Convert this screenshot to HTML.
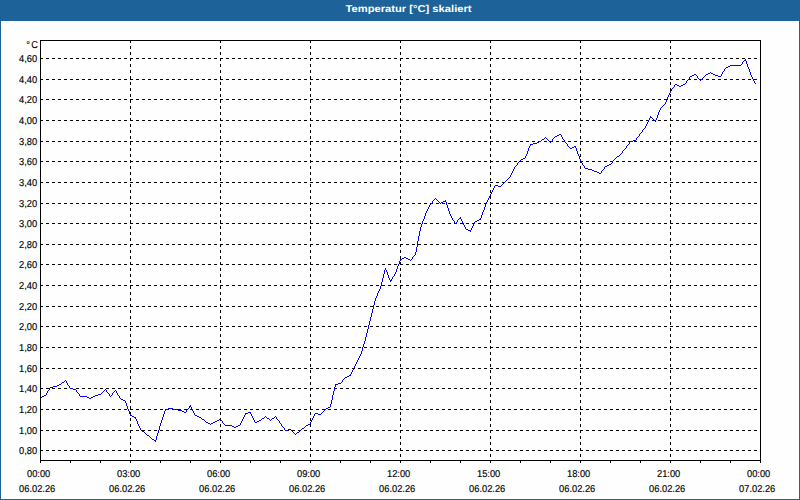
<!DOCTYPE html>
<html><head><meta charset="utf-8"><title>Temperatur [°C] skaliert</title>
<style>
html,body{margin:0;padding:0;background:#fdfefd;}
body{width:800px;height:500px;overflow:hidden;position:relative;font-family:"Liberation Sans",sans-serif;}
#bar{position:absolute;left:0;top:0;width:800px;height:21px;background:#1d6299;}
#frame{position:absolute;left:0;top:21px;width:798px;height:478px;border:1px solid #1d6299;border-top:none;background:#fdfefd;}
svg{position:absolute;left:0;top:0;}
text{font-family:"Liberation Sans",sans-serif;text-rendering:geometricPrecision;}
.t{font-size:10px;fill:#000;letter-spacing:0px;stroke:#000;stroke-width:0.15px;}
.title{font-size:10px;font-weight:bold;fill:#fff;letter-spacing:0px;}
</style></head><body>
<div id="bar"></div><div id="frame"></div>
<svg width="800" height="500" viewBox="0 0 800 500">
<g transform="translate(408.5,12) scale(1.118,1)"><text class="title" text-anchor="middle">Temperatur [°C] skaliert</text></g>
<g shape-rendering="crispEdges" fill="none" stroke="#000" stroke-width="1">

<line x1="40" y1="58.5" x2="760" y2="58.5" stroke-dasharray="3 3"/>
<line x1="40" y1="79.5" x2="760" y2="79.5" stroke-dasharray="3 3"/>
<line x1="40" y1="99.5" x2="760" y2="99.5" stroke-dasharray="3 3"/>
<line x1="40" y1="120.5" x2="760" y2="120.5" stroke-dasharray="3 3"/>
<line x1="40" y1="141.5" x2="760" y2="141.5" stroke-dasharray="3 3"/>
<line x1="40" y1="161.5" x2="760" y2="161.5" stroke-dasharray="3 3"/>
<line x1="40" y1="182.5" x2="760" y2="182.5" stroke-dasharray="3 3"/>
<line x1="40" y1="203.5" x2="760" y2="203.5" stroke-dasharray="3 3"/>
<line x1="40" y1="223.5" x2="760" y2="223.5" stroke-dasharray="3 3"/>
<line x1="40" y1="244.5" x2="760" y2="244.5" stroke-dasharray="3 3"/>
<line x1="40" y1="264.5" x2="760" y2="264.5" stroke-dasharray="3 3"/>
<line x1="40" y1="285.5" x2="760" y2="285.5" stroke-dasharray="3 3"/>
<line x1="40" y1="306.5" x2="760" y2="306.5" stroke-dasharray="3 3"/>
<line x1="40" y1="326.5" x2="760" y2="326.5" stroke-dasharray="3 3"/>
<line x1="40" y1="347.5" x2="760" y2="347.5" stroke-dasharray="3 3"/>
<line x1="40" y1="368.5" x2="760" y2="368.5" stroke-dasharray="3 3"/>
<line x1="40" y1="388.5" x2="760" y2="388.5" stroke-dasharray="3 3"/>
<line x1="40" y1="409.5" x2="760" y2="409.5" stroke-dasharray="3 3"/>
<line x1="40" y1="430.5" x2="760" y2="430.5" stroke-dasharray="3 3"/>
<line x1="40" y1="450.5" x2="760" y2="450.5" stroke-dasharray="3 3"/>
<line x1="130.5" y1="40" x2="130.5" y2="460" stroke-dasharray="3 3"/>
<line x1="220.5" y1="40" x2="220.5" y2="460" stroke-dasharray="3 3"/>
<line x1="310.5" y1="40" x2="310.5" y2="460" stroke-dasharray="3 3"/>
<line x1="400.5" y1="40" x2="400.5" y2="460" stroke-dasharray="3 3"/>
<line x1="490.5" y1="40" x2="490.5" y2="460" stroke-dasharray="3 3"/>
<line x1="580.5" y1="40" x2="580.5" y2="460" stroke-dasharray="3 3"/>
<line x1="670.5" y1="40" x2="670.5" y2="460" stroke-dasharray="3 3"/>
<line x1="40.5" y1="460" x2="40.5" y2="463"/>
<line x1="70.5" y1="460" x2="70.5" y2="463"/>
<line x1="100.5" y1="460" x2="100.5" y2="463"/>
<line x1="130.5" y1="460" x2="130.5" y2="463"/>
<line x1="160.5" y1="460" x2="160.5" y2="463"/>
<line x1="190.5" y1="460" x2="190.5" y2="463"/>
<line x1="220.5" y1="460" x2="220.5" y2="463"/>
<line x1="250.5" y1="460" x2="250.5" y2="463"/>
<line x1="280.5" y1="460" x2="280.5" y2="463"/>
<line x1="310.5" y1="460" x2="310.5" y2="463"/>
<line x1="340.5" y1="460" x2="340.5" y2="463"/>
<line x1="370.5" y1="460" x2="370.5" y2="463"/>
<line x1="400.5" y1="460" x2="400.5" y2="463"/>
<line x1="430.5" y1="460" x2="430.5" y2="463"/>
<line x1="460.5" y1="460" x2="460.5" y2="463"/>
<line x1="490.5" y1="460" x2="490.5" y2="463"/>
<line x1="520.5" y1="460" x2="520.5" y2="463"/>
<line x1="550.5" y1="460" x2="550.5" y2="463"/>
<line x1="580.5" y1="460" x2="580.5" y2="463"/>
<line x1="610.5" y1="460" x2="610.5" y2="463"/>
<line x1="640.5" y1="460" x2="640.5" y2="463"/>
<line x1="670.5" y1="460" x2="670.5" y2="463"/>
<line x1="700.5" y1="460" x2="700.5" y2="463"/>
<line x1="730.5" y1="460" x2="730.5" y2="463"/>
<line x1="760.5" y1="460" x2="760.5" y2="463"/>
</g>
<path shape-rendering="crispEdges" fill="none" stroke="#0000ff" stroke-width="1" d="M744 60.5h2M730 65.5h11M728 66.5h2M726 67.5h2M708 73.5h2M711 73.5h2M694 74.5h2M706 74.5h2M713 74.5h2M692 75.5h2M715 75.5h3M690 76.5h2M718 76.5h3M675 84.5h2M683 84.5h2M677 85.5h2M681 85.5h2M679 86.5h2M650 117.5h2M654 120.5h2M559 134.5h2M557 135.5h2M555 136.5h2M542 139.5h2M633 140.5h3M539 141.5h2M630 141.5h3M537 142.5h2M533 143.5h4M530 144.5h3M574 146.5h2M572 147.5h2M570 148.5h2M617 156.5h2M523 158.5h2M521 159.5h2M609 164.5h2M607 165.5h2M605 166.5h2M585 168.5h3M588 169.5h4M592 170.5h2M594 171.5h3M597 172.5h2M599 173.5h2M495 185.5h3M498 186.5h3M443 201.5h3M441 202.5h2M459 218.5h2M479 219.5h2M477 220.5h2M475 221.5h2M466 229.5h2M468 230.5h3M404 257.5h2M402 258.5h2M406 258.5h2M400 259.5h2M408 259.5h2M390 280.5h2M349 375.5h2M347 376.5h2M345 377.5h2M62 382.5h2M338 383.5h3M59 384.5h2M335 384.5h3M57 385.5h2M53 386.5h4M50 387.5h3M70 388.5h3M73 389.5h3M98 394.5h3M44 395.5h2M95 395.5h3M42 396.5h2M80 396.5h7M93 396.5h2M40 397.5h2M87 397.5h2M91 397.5h2M89 398.5h2M121 399.5h2M123 400.5h2M189 406.5h2M328 407.5h2M168 408.5h5M326 408.5h2M165 409.5h3M173 409.5h5M178 410.5h4M182 411.5h2M184 412.5h2M248 412.5h3M245 413.5h3M315 413.5h3M318 414.5h3M130 415.5h2M195 415.5h2M132 416.5h2M197 416.5h2M134 417.5h2M199 417.5h2M262 418.5h2M267 418.5h2M272 418.5h2M202 419.5h2M219 419.5h2M217 420.5h2M259 420.5h2M215 421.5h2M257 421.5h2M206 422.5h2M213 422.5h2M255 422.5h2M208 423.5h2M211 423.5h2M308 424.5h2M225 425.5h7M238 425.5h2M306 425.5h2M232 426.5h2M236 426.5h2M234 427.5h2M302 428.5h2M288 429.5h3M285 430.5h3M142 431.5h2M297 432.5h2M147 435.5h2M152 439.5h2M154 440.5h2M46.5 393v2M47.5 391v2M48.5 390v1M49.5 388v2M61.5 383v1M64.5 381v1M65.5 380v1M66.5 381v2M67.5 383v2M68.5 385v1M69.5 386v2M76.5 390v2M77.5 392v1M78.5 393v1M79.5 394v2M101.5 393v1M102.5 392v1M103.5 391v1M104.5 390v1M105.5 389v1M106.5 390v2M107.5 392v1M108.5 393v1M109.5 394v2M110.5 396v1M111.5 395v1M112.5 393v2M113.5 392v1M114.5 391v1M115.5 390v1M116.5 391v2M117.5 393v2M118.5 395v1M119.5 396v2M120.5 398v1M125.5 401v2M126.5 403v3M127.5 406v3M128.5 409v2M129.5 411v3M130.5 414v1M135.5 418v1M136.5 419v2M137.5 421v3M138.5 424v2M139.5 426v2M140.5 428v2M141.5 430v1M144.5 432v1M145.5 433v1M146.5 434v1M149.5 436v1M150.5 437v1M151.5 438v1M155.5 441v1M156.5 436v4M157.5 433v3M158.5 430v3M159.5 426v4M160.5 423v3M161.5 420v3M162.5 417v3M163.5 414v3M164.5 411v3M165.5 410v1M186.5 410v2M187.5 409v1M188.5 408v1M189.5 407v1M190.5 405v1M191.5 407v2M192.5 409v2M193.5 411v2M194.5 413v2M201.5 418v1M204.5 420v1M205.5 421v1M210.5 424v1M221.5 420v1M222.5 421v2M223.5 423v1M224.5 424v1M240.5 423v2M241.5 421v2M242.5 419v2M243.5 417v2M244.5 415v2M245.5 414v1M250.5 413v1M251.5 414v2M252.5 416v2M253.5 418v2M254.5 420v2M261.5 419v1M264.5 417v1M265.5 416v1M266.5 417v1M269.5 419v1M270.5 420v1M271.5 419v1M274.5 417v1M275.5 416v1M276.5 417v2M277.5 419v1M278.5 420v1M279.5 421v2M280.5 423v1M281.5 424v2M282.5 426v1M283.5 427v1M284.5 428v2M291.5 430v1M292.5 431v1M293.5 432v1M294.5 433v1M295.5 434v1M296.5 433v1M299.5 431v1M300.5 430v1M301.5 429v1M304.5 427v1M305.5 426v1M310.5 422v2M311.5 420v2M312.5 418v2M313.5 416v2M314.5 414v2M321.5 413v1M322.5 412v1M323.5 411v1M324.5 410v1M325.5 409v1M330.5 404v3M331.5 400v4M332.5 395v5M333.5 391v4M334.5 387v4M335.5 385v2M341.5 382v1M342.5 380v2M343.5 379v1M344.5 378v1M350.5 374v1M351.5 372v2M352.5 370v2M353.5 368v2M354.5 366v2M355.5 364v2M356.5 362v2M357.5 360v2M358.5 358v2M359.5 356v2M360.5 354v2M361.5 351v3M362.5 347v4M363.5 344v3M364.5 341v3M365.5 337v4M366.5 333v4M367.5 329v4M368.5 325v4M369.5 321v4M370.5 317v4M371.5 313v4M372.5 309v4M373.5 305v4M374.5 301v4M375.5 298v3M376.5 296v2M377.5 293v3M378.5 291v2M379.5 289v2M380.5 286v3M381.5 282v4M382.5 278v4M383.5 274v4M384.5 270v4M385.5 268v2M386.5 270v2M387.5 272v3M388.5 275v3M389.5 278v2M390.5 281v1M391.5 279v1M392.5 277v2M393.5 276v1M394.5 274v2M395.5 272v2M396.5 269v3M397.5 266v3M398.5 264v2M399.5 261v3M400.5 260v1M410.5 260v1M411.5 259v1M412.5 257v2M413.5 256v1M414.5 255v1M415.5 252v3M416.5 247v5M417.5 241v6M418.5 236v5M419.5 231v5M420.5 227v4M421.5 224v3M422.5 221v3M423.5 219v2M424.5 216v3M425.5 213v3M426.5 211v2M427.5 209v2M428.5 207v2M429.5 205v2M430.5 204v1M431.5 203v1M432.5 201v2M433.5 200v1M434.5 199v1M435.5 198v1M436.5 199v1M437.5 200v1M438.5 201v1M439.5 202v1M440.5 203v1M445.5 200v1M446.5 202v3M447.5 205v3M448.5 208v3M449.5 211v3M450.5 214v2M451.5 216v2M452.5 218v2M453.5 220v1M454.5 221v2M455.5 223v1M456.5 222v1M457.5 220v2M458.5 219v1M460.5 217v1M461.5 219v2M462.5 221v2M463.5 223v2M464.5 225v2M465.5 227v2M470.5 231v1M471.5 228v2M472.5 226v2M473.5 224v2M474.5 222v2M480.5 218v1M481.5 215v3M482.5 212v3M483.5 210v2M484.5 207v3M485.5 204v3M486.5 202v2M487.5 200v2M488.5 198v2M489.5 196v2M490.5 194v2M491.5 192v2M492.5 190v2M493.5 188v2M494.5 186v2M501.5 185v1M502.5 184v1M503.5 183v1M504.5 182v1M505.5 181v1M506.5 180v1M507.5 179v1M508.5 178v1M509.5 177v1M510.5 175v2M511.5 173v2M512.5 171v2M513.5 169v2M514.5 167v2M515.5 166v1M516.5 165v1M517.5 163v2M518.5 162v1M519.5 161v1M520.5 160v1M525.5 156v2M526.5 154v2M527.5 151v3M528.5 148v3M529.5 146v2M530.5 145v1M541.5 140v1M544.5 138v1M545.5 137v1M546.5 138v1M547.5 139v1M548.5 140v1M549.5 141v1M550.5 142v1M551.5 141v1M552.5 139v2M553.5 138v1M554.5 137v1M561.5 135v2M562.5 137v2M563.5 139v1M564.5 140v2M565.5 142v1M566.5 143v1M567.5 144v2M568.5 146v1M569.5 147v1M575.5 147v1M576.5 148v3M577.5 151v3M578.5 154v2M579.5 156v3M580.5 159v2M581.5 161v2M582.5 163v2M583.5 165v1M584.5 166v2M601.5 171v2M602.5 170v1M603.5 169v1M604.5 167v2M611.5 163v1M612.5 161v2M613.5 160v1M614.5 159v1M615.5 158v1M616.5 157v1M619.5 155v1M620.5 154v1M621.5 153v1M622.5 151v2M623.5 150v1M624.5 149v1M625.5 148v1M626.5 146v2M627.5 145v1M628.5 144v1M629.5 142v2M636.5 138v2M637.5 137v1M638.5 136v1M639.5 134v2M640.5 133v1M641.5 132v1M642.5 130v2M643.5 129v1M644.5 128v1M645.5 126v2M646.5 124v2M647.5 122v2M648.5 120v2M649.5 118v2M650.5 116v1M652.5 118v1M653.5 119v1M655.5 121v1M656.5 118v2M657.5 115v3M658.5 112v3M659.5 110v2M660.5 108v2M661.5 107v1M662.5 106v1M663.5 105v1M664.5 104v1M665.5 102v2M666.5 100v2M667.5 97v3M668.5 95v2M669.5 93v2M670.5 91v2M671.5 89v2M672.5 88v1M673.5 87v1M674.5 85v2M685.5 83v1M686.5 81v2M687.5 80v1M688.5 79v1M689.5 77v2M696.5 75v1M697.5 76v2M698.5 78v1M699.5 79v1M700.5 80v1M701.5 79v1M702.5 78v1M703.5 77v1M704.5 76v1M705.5 75v1M710.5 72v1M721.5 74v2M722.5 72v2M723.5 71v1M724.5 69v2M725.5 68v1M741.5 64v1M742.5 62v2M743.5 61v1M745.5 59v1M746.5 61v3M747.5 64v3M748.5 67v2M749.5 69v3M750.5 72v3M751.5 75v2M752.5 77v2M753.5 79v2M754.5 81v2M755.5 83v1"/>
<rect shape-rendering="crispEdges" fill="none" stroke="#000" stroke-width="1" x="40.5" y="40.5" width="720" height="420"/>
<g transform="translate(39.0,48) scale(0.93,1)"><text class="t" text-anchor="end" style="letter-spacing:1.2px">°C</text></g>
<g transform="translate(37.2,62) scale(0.93,1)"><text class="t" text-anchor="end">4,60</text></g>
<g transform="translate(37.2,83) scale(0.93,1)"><text class="t" text-anchor="end">4,40</text></g>
<g transform="translate(37.2,103) scale(0.93,1)"><text class="t" text-anchor="end">4,20</text></g>
<g transform="translate(37.2,124) scale(0.93,1)"><text class="t" text-anchor="end">4,00</text></g>
<g transform="translate(37.2,145) scale(0.93,1)"><text class="t" text-anchor="end">3,80</text></g>
<g transform="translate(37.2,165) scale(0.93,1)"><text class="t" text-anchor="end">3,60</text></g>
<g transform="translate(37.2,186) scale(0.93,1)"><text class="t" text-anchor="end">3,40</text></g>
<g transform="translate(37.2,207) scale(0.93,1)"><text class="t" text-anchor="end">3,20</text></g>
<g transform="translate(37.2,227) scale(0.93,1)"><text class="t" text-anchor="end">3,00</text></g>
<g transform="translate(37.2,248) scale(0.93,1)"><text class="t" text-anchor="end">2,80</text></g>
<g transform="translate(37.2,268) scale(0.93,1)"><text class="t" text-anchor="end">2,60</text></g>
<g transform="translate(37.2,289) scale(0.93,1)"><text class="t" text-anchor="end">2,40</text></g>
<g transform="translate(37.2,310) scale(0.93,1)"><text class="t" text-anchor="end">2,20</text></g>
<g transform="translate(37.2,330) scale(0.93,1)"><text class="t" text-anchor="end">2,00</text></g>
<g transform="translate(37.2,351) scale(0.93,1)"><text class="t" text-anchor="end">1,80</text></g>
<g transform="translate(37.2,372) scale(0.93,1)"><text class="t" text-anchor="end">1,60</text></g>
<g transform="translate(37.2,392) scale(0.93,1)"><text class="t" text-anchor="end">1,40</text></g>
<g transform="translate(37.2,413) scale(0.93,1)"><text class="t" text-anchor="end">1,20</text></g>
<g transform="translate(37.2,434) scale(0.93,1)"><text class="t" text-anchor="end">1,00</text></g>
<g transform="translate(37.2,454) scale(0.93,1)"><text class="t" text-anchor="end">0,80</text></g>
<g transform="translate(38.6,477) scale(0.93,1)"><text class="t" text-anchor="middle">00:00</text></g>
<g transform="translate(37.2,492) scale(0.93,1)"><text class="t" text-anchor="middle">06.02.26</text></g>
<g transform="translate(128.6,477) scale(0.93,1)"><text class="t" text-anchor="middle">03:00</text></g>
<g transform="translate(127.2,492) scale(0.93,1)"><text class="t" text-anchor="middle">06.02.26</text></g>
<g transform="translate(218.6,477) scale(0.93,1)"><text class="t" text-anchor="middle">06:00</text></g>
<g transform="translate(217.2,492) scale(0.93,1)"><text class="t" text-anchor="middle">06.02.26</text></g>
<g transform="translate(308.6,477) scale(0.93,1)"><text class="t" text-anchor="middle">09:00</text></g>
<g transform="translate(307.2,492) scale(0.93,1)"><text class="t" text-anchor="middle">06.02.26</text></g>
<g transform="translate(398.6,477) scale(0.93,1)"><text class="t" text-anchor="middle">12:00</text></g>
<g transform="translate(397.2,492) scale(0.93,1)"><text class="t" text-anchor="middle">06.02.26</text></g>
<g transform="translate(488.6,477) scale(0.93,1)"><text class="t" text-anchor="middle">15:00</text></g>
<g transform="translate(487.2,492) scale(0.93,1)"><text class="t" text-anchor="middle">06.02.26</text></g>
<g transform="translate(578.6,477) scale(0.93,1)"><text class="t" text-anchor="middle">18:00</text></g>
<g transform="translate(577.2,492) scale(0.93,1)"><text class="t" text-anchor="middle">06.02.26</text></g>
<g transform="translate(668.6,477) scale(0.93,1)"><text class="t" text-anchor="middle">21:00</text></g>
<g transform="translate(667.2,492) scale(0.93,1)"><text class="t" text-anchor="middle">06.02.26</text></g>
<g transform="translate(758.6,477) scale(0.93,1)"><text class="t" text-anchor="middle">00:00</text></g>
<g transform="translate(757.2,492) scale(0.93,1)"><text class="t" text-anchor="middle">07.02.26</text></g>
</svg></body></html>
